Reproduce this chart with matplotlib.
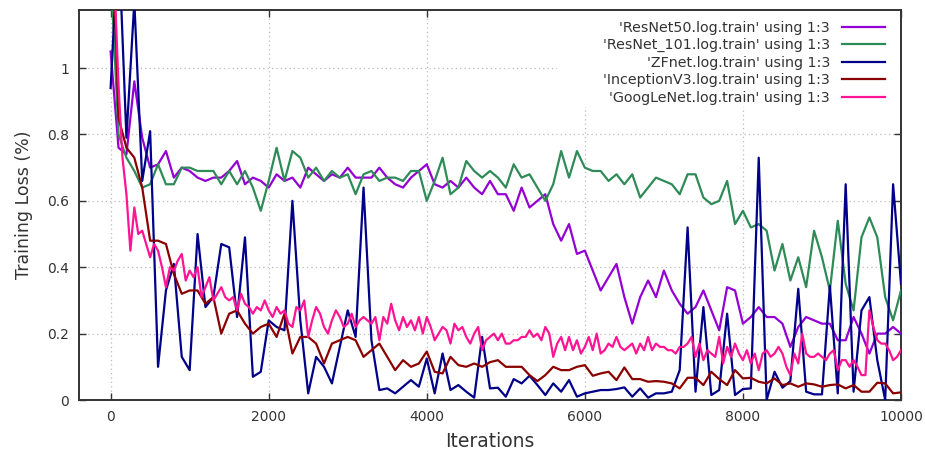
import matplotlib
matplotlib.use("Agg")
import matplotlib.pyplot as plt
import numpy as np
from matplotlib.patches import Rectangle

# training loss logged every 100 iterations (GoogLeNet every 50)
iters = np.arange(0, 10001, 100)
iters_goog = np.arange(0, 10001, 50)

resnet50 = [
    1.05, 0.76, 0.74, 0.96, 0.79, 0.70, 0.71, 0.75, 0.67, 0.70,
    0.69, 0.67, 0.66, 0.67, 0.67, 0.69, 0.72, 0.65, 0.67, 0.66,
    0.64, 0.68, 0.66, 0.67, 0.64, 0.70, 0.68, 0.66, 0.68, 0.67,
    0.70, 0.67, 0.67, 0.67, 0.70, 0.67, 0.65, 0.64, 0.67, 0.69,
    0.71, 0.65, 0.64, 0.66, 0.64, 0.67, 0.64, 0.62, 0.66, 0.62,
    0.62, 0.57, 0.64, 0.58, 0.60, 0.62, 0.53, 0.48, 0.53, 0.44,
    0.45, 0.39, 0.33, 0.37, 0.41, 0.31, 0.23, 0.31, 0.36, 0.31,
    0.39, 0.33, 0.29, 0.26, 0.28, 0.33, 0.27, 0.21, 0.34, 0.33,
    0.23, 0.25, 0.28, 0.25, 0.25, 0.23, 0.16, 0.22, 0.25, 0.24,
    0.23, 0.23, 0.18, 0.18, 0.25, 0.20, 0.14, 0.20, 0.20, 0.22, 0.20,
]

resnet101 = [
    1.30, 0.80, 0.73, 0.69, 0.64, 0.65, 0.71, 0.65, 0.65, 0.70,
    0.70, 0.69, 0.69, 0.69, 0.65, 0.69, 0.65, 0.69, 0.64, 0.57,
    0.66, 0.76, 0.66, 0.75, 0.73, 0.67, 0.70, 0.66, 0.69, 0.67,
    0.68, 0.62, 0.68, 0.69, 0.66, 0.67, 0.67, 0.66, 0.69, 0.69,
    0.60, 0.66, 0.73, 0.62, 0.64, 0.72, 0.69, 0.67, 0.69, 0.67,
    0.64, 0.71, 0.67, 0.68, 0.64, 0.60, 0.65, 0.75, 0.67, 0.75,
    0.70, 0.69, 0.69, 0.66, 0.68, 0.65, 0.68, 0.61, 0.64, 0.67,
    0.66, 0.65, 0.62, 0.68, 0.68, 0.61, 0.59, 0.60, 0.66, 0.53,
    0.57, 0.52, 0.53, 0.51, 0.39, 0.47, 0.36, 0.43, 0.34, 0.51,
    0.43, 0.33, 0.54, 0.35, 0.27, 0.49, 0.55, 0.49, 0.31, 0.24, 0.33,
]

zfnet = [
    0.94, 1.40, 0.79, 1.20, 0.66, 0.81, 0.10, 0.33, 0.41, 0.13,
    0.09, 0.50, 0.28, 0.31, 0.47, 0.46, 0.25, 0.49, 0.07, 0.085,
    0.24, 0.22, 0.21, 0.60, 0.24, 0.02, 0.13, 0.10, 0.05, 0.16,
    0.27, 0.19, 0.64, 0.18, 0.03, 0.035, 0.02, 0.04, 0.06, 0.04,
    0.125, 0.02, 0.14, 0.03, 0.045, 0.025, 0.007, 0.19, 0.035, 0.037,
    0.01, 0.063, 0.05, 0.073, 0.045, 0.015, 0.05, 0.025, 0.06, 0.01,
    0.02, 0.025, 0.03, 0.03, 0.033, 0.038, 0.01, 0.035, 0.007, 0.02,
    0.02, 0.025, 0.09, 0.52, 0.025, 0.28, 0.015, 0.03, 0.26, 0.015,
    0.033, 0.035, 0.73, 0.0, 0.085, 0.037, 0.057, 0.335, 0.025, 0.017,
    0.017, 0.344, 0.02, 0.65, 0.025, 0.27, 0.31, 0.12, 0.0, 0.65, 0.35,
]

inception_v3 = [
    1.60, 0.85, 0.76, 0.73, 0.64, 0.48, 0.48, 0.47, 0.38, 0.32,
    0.33, 0.33, 0.29, 0.31, 0.20, 0.26, 0.27, 0.23, 0.20, 0.22,
    0.23, 0.19, 0.26, 0.14, 0.19, 0.19, 0.17, 0.11, 0.17, 0.18,
    0.19, 0.18, 0.13, 0.15, 0.17, 0.13, 0.09, 0.12, 0.10, 0.11,
    0.146, 0.085, 0.08, 0.13, 0.105, 0.10, 0.11, 0.10, 0.114, 0.12,
    0.10, 0.10, 0.10, 0.075, 0.057, 0.075, 0.10, 0.09, 0.09, 0.10,
    0.105, 0.073, 0.08, 0.085, 0.06, 0.098, 0.063, 0.063, 0.055, 0.057,
    0.055, 0.05, 0.035, 0.067, 0.067, 0.045, 0.085, 0.063, 0.045, 0.09,
    0.065, 0.067, 0.055, 0.05, 0.065, 0.045, 0.05, 0.04, 0.05, 0.047,
    0.04, 0.045, 0.047, 0.035, 0.045, 0.025, 0.025, 0.052, 0.05, 0.02, 0.023,
]

googlenet = [
    1.70, 1.25, 0.95, 0.73, 0.62, 0.45, 0.58, 0.50, 0.51, 0.47,
    0.43, 0.47, 0.45, 0.40, 0.34, 0.40, 0.39, 0.42, 0.44, 0.36,
    0.39, 0.37, 0.40, 0.31, 0.34, 0.37, 0.30, 0.32, 0.34, 0.31,
    0.30, 0.31, 0.27, 0.32, 0.29, 0.28, 0.26, 0.28, 0.27, 0.30,
    0.27, 0.25, 0.28, 0.26, 0.27, 0.23, 0.22, 0.28, 0.27, 0.30,
    0.19, 0.24, 0.28, 0.26, 0.22, 0.20, 0.24, 0.27, 0.25, 0.22,
    0.23, 0.26, 0.22, 0.24, 0.25, 0.24, 0.23, 0.25, 0.18, 0.25,
    0.23, 0.29, 0.24, 0.21, 0.25, 0.22, 0.24, 0.21, 0.25, 0.20,
    0.25, 0.22, 0.18, 0.20, 0.22, 0.21, 0.17, 0.23, 0.21, 0.22,
    0.19, 0.17, 0.20, 0.22, 0.15, 0.18, 0.19, 0.20, 0.18, 0.20,
    0.17, 0.17, 0.18, 0.18, 0.19, 0.19, 0.21, 0.19, 0.20, 0.18,
    0.22, 0.20, 0.13, 0.17, 0.19, 0.15, 0.19, 0.15, 0.18, 0.14,
    0.16, 0.19, 0.15, 0.20, 0.14, 0.15, 0.17, 0.16, 0.19, 0.16,
    0.15, 0.16, 0.17, 0.14, 0.17, 0.15, 0.19, 0.15, 0.17, 0.16,
    0.16, 0.15, 0.15, 0.14, 0.16, 0.16, 0.17, 0.19, 0.13, 0.17,
    0.12, 0.15, 0.14, 0.13, 0.19, 0.11, 0.16, 0.13, 0.17, 0.14,
    0.12, 0.15, 0.11, 0.14, 0.09, 0.14, 0.15, 0.13, 0.14, 0.16,
    0.14, 0.10, 0.075, 0.14, 0.11, 0.20, 0.14, 0.13, 0.13, 0.14,
    0.13, 0.12, 0.14, 0.15, 0.09, 0.12, 0.12, 0.10, 0.12, 0.10,
    0.075, 0.075, 0.27, 0.22, 0.18, 0.17, 0.17, 0.15, 0.12, 0.13,
    0.15,
]

series = [
    ("'ResNet50.log.train' using 1:3", iters, resnet50, "#9400d3"),
    ("'ResNet_101.log.train' using 1:3", iters, resnet101, "#2e8b57"),
    ("'ZFnet.log.train' using 1:3", iters, zfnet, "#000088"),
    ("'InceptionV3.log.train' using 1:3", iters, inception_v3, "#8b0000"),
    ("'GoogLeNet.log.train' using 1:3", iters_goog, googlenet, "#ff1493"),
]

text_color = "#333333"
plt.rcParams["font.family"] = "DejaVu Sans"

fig = plt.figure(figsize=(9.25, 4.54), dpi=100)
ax = fig.add_axes([79 / 925, 54 / 454, 822 / 925, 390 / 454])

for label, x, y, color in series:
    ax.plot(x, y, color=color, lw=1.6, label=label, zorder=3)

ax.set_xlim(-400, 10000)
ax.set_ylim(0, 1.175)
ax.set_xticks([0, 2000, 4000, 6000, 8000, 10000])
ax.set_yticks([0, 0.2, 0.4, 0.6, 0.8, 1.0])
ax.set_yticklabels(["0", "0.2", "0.4", "0.6", "0.8", "1"])

ax.grid(True, color="#bbbbbb", linestyle=(0, (1, 2.5)), linewidth=0.9, zorder=0)
ax.set_axisbelow(True)
ax.tick_params(direction="in", length=5, width=1, top=True, right=True,
               labelsize=10, colors=text_color, pad=7)
for sp in ax.spines.values():
    sp.set_color("#333333")
    sp.set_linewidth(1.4)

ax.set_xlabel("Iterations", fontsize=13.5, color=text_color, labelpad=6)
ax.set_ylabel("Training Loss (%)", fontsize=12.5, color=text_color, labelpad=10)

# opaque key area
ax.add_patch(Rectangle((0.581, 0.751), 0.419, 0.249, transform=ax.transAxes,
                       facecolor="white", edgecolor="none", zorder=1))

leg = ax.legend(loc="upper right", bbox_to_anchor=(0.9805, 0.972), frameon=False,
                markerfirst=False, fontsize=10.3, handlelength=3.0,
                handletextpad=0.85, labelspacing=0.24, borderaxespad=0.0,
                borderpad=0.0)
for t in leg.get_texts():
    t.set_color(text_color)

fig.savefig("out.png", dpi=100)
